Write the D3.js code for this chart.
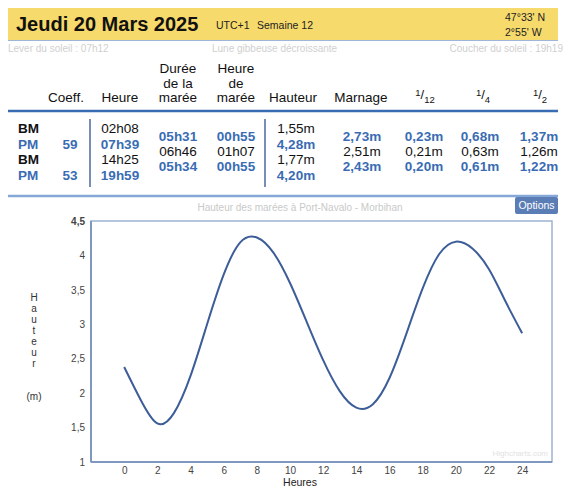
<!DOCTYPE html>
<html>
<head>
<meta charset="utf-8">
<script src="https://cdn.jsdelivr.net/npm/d3@7"></script>
<style>
  body { margin: 0; background: #fff; }
  svg { font-family: "Liberation Sans", Arial, sans-serif; }
</style>
</head>
<body>
<svg id="page" width="566" height="488"></svg>
<script>
// tide table
const tideTypes = ["BM", "PM", "BM", "PM"]
const coeffs = ["", "59", "", "53"]
const tideTimes = ["02h08", "07h39", "14h25", "19h59"]
const tideHeights = ["1,55m", "4,28m", "1,77m", "4,20m"]
const durations = ["05h31", "06h46", "05h34"]
const tideHours = ["00h55", "01h07", "00h55"]
const marnage = ["2,73m", "2,51m", "2,43m"]
const twelfth = ["0,23m", "0,21m", "0,20m"]
const quarter = ["0,68m", "0,63m", "0,61m"]
const half = ["1,37m", "1,26m", "1,22m"]

// curve, one value per hour (metres)
const hours = d3.range(0, 25)
const levels = [2.38, 1.90, 1.56, 1.71, 2.25, 3.00, 3.72, 4.19, 4.26, 4.04, 3.60, 3.04, 2.48, 2.03, 1.79, 1.84, 2.22, 2.85, 3.52, 4.02, 4.20, 4.10, 3.80, 3.33, 2.87]

const xTicks = d3.range(0, 25, 2)
const yTicks = [1, 1.5, 2, 2.5, 3, 3.5, 4, 4.5]

const blue = "#3a6cb4"
const svg = d3.select("#page")

// ---- header band
svg.append("rect").attr("x", 8).attr("y", 8).attr("width", 550).attr("height", 32).attr("fill", "#f6da6c")
svg.append("line").attr("x1", 8).attr("x2", 558).attr("y1", 40.5).attr("y2", 40.5).attr("stroke", "#9fb6d8")
svg.append("text").attr("x", 16).attr("y", 31).attr("font-size", 20).attr("font-weight", "bold").attr("fill", "#111")
	.text("Jeudi 20 Mars 2025")
svg.append("text").attr("x", 216).attr("y", 29).attr("font-size", 10.5).attr("fill", "#222").text("UTC+1")
svg.append("text").attr("x", 257).attr("y", 29).attr("font-size", 10.5).attr("fill", "#222").text("Semaine 12")
svg.append("text").attr("x", 505).attr("y", 21).attr("font-size", 10.5).attr("fill", "#222").text("47°33' N")
svg.append("text").attr("x", 505).attr("y", 36).attr("font-size", 10.5).attr("fill", "#222").text("2°55' W")

// faint sun / moon line
const faint = "#d0d0d0"
svg.append("text").attr("x", 8).attr("y", 52).attr("font-size", 10).attr("fill", faint).text("Lever du soleil : 07h12")
svg.append("text").attr("x", 212).attr("y", 52).attr("font-size", 10).attr("fill", faint).text("Lune gibbeuse décroissante")
svg.append("text").attr("x", 563).attr("y", 52).attr("font-size", 10).attr("fill", faint)
	.attr("text-anchor", "end").text("Coucher du soleil : 19h19")

// ---- table header
const head = svg.append("g").attr("font-size", 13.5).attr("fill", "#111").attr("text-anchor", "middle")
function multi(x, lines) {
	lines.forEach((l, i) => {
		head.append("text").attr("x", x).attr("y", 102 - (lines.length - 1 - i) * 14.5).text(l)
	})
}
multi(66, ["Coeff."])
multi(120, ["Heure"])
multi(178, ["Durée", "de la", "marée"])
multi(236, ["Heure", "de", "marée"])
multi(293, ["Hauteur"])
multi(361, ["Marnage"])

function fraction(x, den) {
	const t = head.append("text").attr("x", x).attr("y", 100)
	t.append("tspan").attr("font-size", 9.5).attr("dy", -4).text("1")
	t.append("tspan").attr("font-size", 13).attr("dy", 3).text("/")
	t.append("tspan").attr("font-size", 9.5).attr("dy", 4).text(den)
}
fraction(425, "12")
fraction(483, "4")
fraction(540, "2")

svg.append("line").attr("x1", 8).attr("x2", 558).attr("y1", 111).attr("y2", 111).attr("stroke", blue).attr("stroke-width", 2.5)

// ---- table rows
const rows = svg.append("g").attr("font-size", 13.5)
const rowY = i => 133 + i * 15.5
const midY = i => 141 + i * 15
const isPM = i => tideTypes[i] == "PM"

tideTypes.forEach(function(t, i) {
	const col = isPM(i) ? blue : "#111"
	rows.append("text").attr("x", 18).attr("y", rowY(i)).attr("fill", col).attr("font-weight", "bold").text(t)
	rows.append("text").attr("x", 70).attr("y", rowY(i)).attr("fill", col).attr("font-weight", "bold")
		.attr("text-anchor", "middle").text(coeffs[i])
	rows.append("text").attr("x", 120).attr("y", rowY(i)).attr("fill", col).attr("font-weight", isPM(i) ? "bold" : "normal")
		.attr("text-anchor", "middle").text(tideTimes[i])
	rows.append("text").attr("x", 296).attr("y", rowY(i)).attr("fill", col).attr("font-weight", isPM(i) ? "bold" : "normal")
		.attr("text-anchor", "middle").text(tideHeights[i])
})

const midCols = [[178, durations], [236, tideHours], [362, marnage], [424, twelfth], [480, quarter], [539, half]]
midCols.forEach(function(c) {
	c[1].forEach(function(v, i) {
		const rising = i != 1
		rows.append("text").attr("x", c[0]).attr("y", midY(i))
			.attr("fill", rising ? blue : "#111").attr("font-weight", rising ? "bold" : "normal")
			.attr("text-anchor", "middle").text(v)
	})
})

svg.append("line").attr("x1", 90).attr("x2", 90).attr("y1", 119).attr("y2", 187).attr("stroke", "#4a6a9c").attr("stroke-width", 1.5)
svg.append("line").attr("x1", 265).attr("x2", 265).attr("y1", 119).attr("y2", 187).attr("stroke", "#4a6a9c").attr("stroke-width", 1.5)
svg.append("line").attr("x1", 8).attr("x2", 558).attr("y1", 196).attr("y2", 196).attr("stroke", "#86a8d8").attr("stroke-width", 2.5)

// ---- chart
svg.append("text").attr("x", 300).attr("y", 211).attr("font-size", 10).attr("fill", "#c9c9c9")
	.attr("text-anchor", "middle").text("Hauteur des marées à Port-Navalo - Morbihan")

svg.append("rect").attr("x", 515).attr("y", 197).attr("width", 43).attr("height", 17).attr("rx", 2).attr("fill", "#5a7db5")
svg.append("text").attr("x", 536.5).attr("y", 209).attr("font-size", 10.5).attr("fill", "#fff")
	.attr("text-anchor", "middle").text("Options")

const x = d3.scaleLinear().domain([-2, 25.8]).range([91, 552])
const y = d3.scaleLinear().domain([1, 4.5]).range([462, 221])

svg.append("rect")
	.attr("x", x(-2)).attr("y", y(4.5))
	.attr("width", x(25.8) - x(-2)).attr("height", y(1) - y(4.5))
	.attr("fill", "#fff").attr("stroke", "#9fb3d3").attr("stroke-width", 1.5)
svg.append("line").attr("x1", x(-2)).attr("x2", x(-2)).attr("y1", y(4.5)).attr("y2", y(1)).attr("stroke", "#7f98c0").attr("stroke-width", 2)
svg.append("line").attr("x1", x(-2)).attr("x2", x(25.8)).attr("y1", y(1)).attr("y2", y(1)).attr("stroke", "#7f98c0").attr("stroke-width", 2)

const fr = d3.formatLocale({decimal: ",", thousands: " ", grouping: [3], currency: ["", "€"]})
const fmt = fr.format("~g")

const yAxis = d3.axisLeft(y).tickValues(yTicks).tickFormat(fmt).tickSize(0).tickPadding(6)
svg.append("g").attr("class", "yAxisGroup").attr("transform", "translate(" + x(-2) + ",0)").call(yAxis)
	.call(g => g.select(".domain").remove())
	.selectAll("text").attr("font-size", 10).attr("fill", "#444")
	.attr("font-family", "Liberation Sans, Arial, sans-serif")
	.attr("font-weight", d => d == 4.5 ? "bold" : "normal")

const xAxis = d3.axisBottom(x).tickValues(xTicks).tickSize(0).tickPadding(5)
svg.append("g").attr("class", "xAxisGroup").attr("transform", "translate(0," + y(1) + ")").call(xAxis)
	.call(g => g.select(".domain").remove())
	.selectAll("text").attr("font-size", 10).attr("fill", "#444")
	.attr("font-family", "Liberation Sans, Arial, sans-serif")

svg.append("text").attr("x", 300).attr("y", 486).attr("font-size", 10.5).attr("fill", "#222")
	.attr("text-anchor", "middle").text("Heures")

// vertical axis title, one letter per line
const yTitle = "Hauteur".split("")
yTitle.forEach(function(c, i) {
	svg.append("text").attr("x", 34).attr("y", 301 + i * 11).attr("font-size", 10).attr("fill", "#333")
		.attr("text-anchor", "middle").text(c)
})
svg.append("text").attr("x", 34).attr("y", 400).attr("font-size", 10).attr("fill", "#333")
	.attr("text-anchor", "middle").text("(m)")

const line = d3.line()
	.x((d, i) => x(hours[i]))
	.y(d => y(d))
	.curve(d3.curveNatural)

svg.append("path")
	.datum(levels)
	.attr("fill", "none")
	.attr("stroke", "#3d5d98")
	.attr("stroke-width", 2)
	.attr("d", line)

svg.append("text").attr("x", 548).attr("y", 456).attr("font-size", 8).attr("fill", "#e2e2e2")
	.attr("text-anchor", "end").text("Highcharts.com")
</script>
</body>
</html>
